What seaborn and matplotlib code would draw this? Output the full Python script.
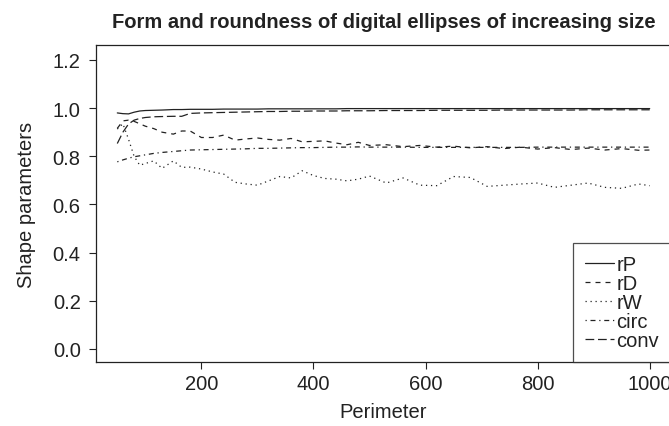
import numpy as np
import pandas as pd
import matplotlib
matplotlib.use("Agg")
import matplotlib.pyplot as plt
import seaborn as sns
from matplotlib.lines import Line2D

perimeter = [50, 60, 70, 80, 90, 100, 115, 130, 150, 165, 180, 200,
             220, 240, 260, 280, 300, 320, 340, 360, 380, 400,
             420, 440, 460, 480, 500, 530, 560, 590, 620, 650,
             680, 710, 740, 770, 800, 830, 860, 890, 920, 950, 980, 1000]

rP = [0.980, 0.977, 0.976, 0.983, 0.988, 0.990, 0.991, 0.992, 0.994, 0.994, 0.995, 0.995,
      0.995, 0.996, 0.996, 0.996, 0.996, 0.997, 0.997, 0.997, 0.997, 0.997,
      0.997, 0.997, 0.998, 0.998, 0.998, 0.998, 0.998, 0.998, 0.998, 0.998,
      0.998, 0.998, 0.998, 0.998, 0.998, 0.998, 0.998, 0.998, 0.998, 0.998, 0.998, 0.998]

rD = [0.916, 0.947, 0.950, 0.945, 0.935, 0.925, 0.915, 0.900, 0.892, 0.905, 0.905, 0.878,
      0.878, 0.888, 0.867, 0.872, 0.876, 0.870, 0.867, 0.874, 0.860, 0.862,
      0.864, 0.855, 0.848, 0.858, 0.845, 0.848, 0.840, 0.845, 0.838, 0.842,
      0.835, 0.840, 0.832, 0.838, 0.830, 0.836, 0.828, 0.834, 0.826, 0.832, 0.825, 0.826]

rW = [0.913, 0.935, 0.871, 0.800, 0.763, 0.770, 0.781, 0.750, 0.781, 0.754, 0.755, 0.747,
      0.735, 0.726, 0.692, 0.685, 0.680, 0.698, 0.716, 0.710, 0.740, 0.720,
      0.708, 0.705, 0.698, 0.705, 0.718, 0.689, 0.710, 0.680, 0.678, 0.716,
      0.712, 0.675, 0.680, 0.685, 0.689, 0.671, 0.680, 0.689, 0.671, 0.667, 0.685, 0.678]

circ = [0.777, 0.785, 0.792, 0.798, 0.802, 0.806, 0.812, 0.816, 0.820, 0.823, 0.826, 0.827,
        0.828, 0.829, 0.830, 0.831, 0.833, 0.833, 0.834, 0.835, 0.836, 0.836,
        0.837, 0.838, 0.838, 0.839, 0.838, 0.838, 0.838, 0.837, 0.837, 0.837,
        0.837, 0.837, 0.837, 0.837, 0.838, 0.838, 0.838, 0.838, 0.838, 0.838, 0.838, 0.838]

conv = [0.853, 0.900, 0.934, 0.950, 0.957, 0.961, 0.964, 0.965, 0.966, 0.966, 0.978, 0.980,
        0.981, 0.982, 0.983, 0.984, 0.985, 0.986, 0.986, 0.987, 0.987, 0.988,
        0.988, 0.988, 0.989, 0.989, 0.989, 0.990, 0.990, 0.990, 0.991, 0.991,
        0.991, 0.991, 0.992, 0.992, 0.992, 0.992, 0.992, 0.993, 0.993, 0.993, 0.993, 0.993]

series_names = ["rP", "rD", "rW", "circ", "conv"]
yticks = [0.0, 0.2, 0.4, 0.6, 0.8, 1.0, 1.2]
xticks = [200, 400, 600, 800, 1000]

frames = []
for name, vals in zip(series_names, [rP, rD, rW, circ, conv]):
    frames.append(pd.DataFrame({"Perimeter": perimeter, "value": vals, "series": name}))
df = pd.concat(frames, ignore_index=True)

sns.set_theme(style="white")
plt.rcParams["font.family"] = ["Liberation Sans", "DejaVu Sans"]

FS = 14.5
INK = "#222222"

fig = plt.figure(figsize=(6.69, 4.27), dpi=100)
ax = fig.add_axes([96 / 669, 1 - 363 / 427, 575 / 669, 317 / 427])

dashes = {"rP": "", "rD": (4, 4), "rW": (1, 3), "circ": (1, 3, 4, 3), "conv": (7, 3)}
sns.lineplot(data=df, x="Perimeter", y="value", style="series", dashes=dashes,
             style_order=series_names, color=INK, linewidth=0.9, ax=ax,
             legend=False)

ax.set_xlim(12, 1038)
ax.set_ylim(-0.054, 1.262)
ax.set_xticks(xticks)
ax.set_yticks(yticks)
ax.set_xticklabels([str(t) for t in xticks])
ax.set_yticklabels([f"{t:.1f}" for t in yticks])
ax.tick_params(axis="both", direction="out", length=5, width=0.8, color=INK,
               labelsize=FS, labelcolor=INK, bottom=True, left=True)
ax.tick_params(axis="y", pad=6)
ax.tick_params(axis="x", pad=4)
for sp in ax.spines.values():
    sp.set_color(INK)
    sp.set_linewidth(0.9)
    sp.set_visible(True)

ax.set_xlabel("Perimeter", fontsize=FS, color=INK, labelpad=6)
ax.set_ylabel("Shape parameters", fontsize=FS, color=INK, labelpad=12)
ax.set_title("Form and roundness of digital ellipses of increasing size",
             fontsize=FS, fontweight="bold", color=INK, pad=13)

handles = []
for name in series_names:
    d = dashes[name]
    h = Line2D([0], [0], color=INK, linewidth=0.9)
    if d:
        h.set_dashes(d)
    handles.append(h)
leg = ax.legend(handles, series_names, loc="lower right", bbox_to_anchor=(1, 0),
                frameon=True, fancybox=False, edgecolor=INK, fontsize=FS,
                handlelength=1.45, handletextpad=0.12, labelspacing=0.0,
                borderpad=0.6, borderaxespad=0)
leg.get_frame().set_linewidth(0.9)
for t in leg.get_texts():
    t.set_color(INK)

fig.savefig("out.png", dpi=100)
